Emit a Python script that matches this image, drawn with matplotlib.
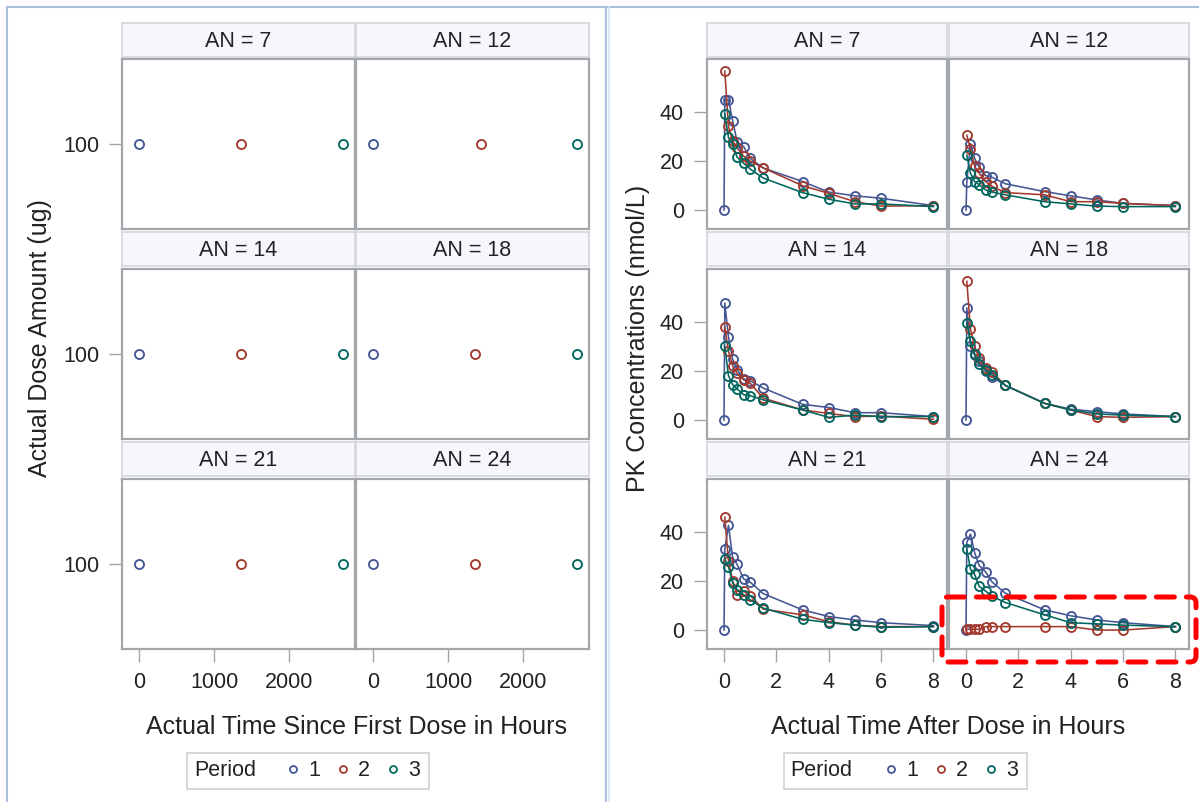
import matplotlib
matplotlib.use('Agg')
import matplotlib.pyplot as plt
from matplotlib.patches import Rectangle, FancyBboxPatch
from matplotlib.lines import Line2D
from matplotlib.transforms import IdentityTransform

plt.rcParams['font.family'] = ['Liberation Sans', 'DejaVu Sans']

# ---------------- data ----------------
subjects = [7, 12, 14, 18, 21, 24]
period_labels = ['1', '2', '3']
period_colors = ['#445694', '#A23A2E', '#01665E']

# Left graph: actual time since first dose (h) of each dosing, per subject
dose_time_p1 = [0, 0, 0, 0, 0, 0]
dose_time_p2 = [1360, 1440, 1350, 1360, 1360, 1360]
dose_time_p3 = [2720, 2710, 2720, 2710, 2720, 2710]
dose_amt_p1 = [100, 100, 100, 100, 100, 100]
dose_amt_p2 = [100, 100, 100, 100, 100, 100]
dose_amt_p3 = [100, 100, 100, 100, 100, 100]

# Right graph: actual time after dose (h)
pk_time_p1 = [0, 0.03, 0.17, 0.33, 0.5, 0.75, 1.0, 1.5, 3, 4, 5, 6, 8]
pk_time_p2 = [0.03, 0.17, 0.33, 0.5, 0.75, 1.0, 1.5, 3, 4, 5, 6, 8]
pk_time_p3 = [0.03, 0.17, 0.33, 0.5, 0.75, 1.0, 1.5, 3, 4, 5, 6, 8]

# PK concentrations (nmol/L) per subject
conc_p1 = {
    7:  [0, 44.8, 44.8, 36.3, 27.8, 25.8, 21.0, 17.1, 11.6, 7.3, 5.8, 4.8, 1.8],
    12: [0, 11.4, 27.0, 21.0, 17.5, 14.0, 13.3, 10.7, 7.5, 5.8, 4.1, 2.7, 1.8],
    14: [0, 47.5, 33.8, 24.7, 20.5, 16.7, 16.0, 13.0, 6.4, 5.1, 3.0, 3.0, 1.4],
    18: [0, 45.6, 30.0, 26.3, 24.0, 19.9, 17.5, 14.1, 6.8, 4.4, 3.4, 2.5, 1.4],
    21: [0, 32.9, 42.5, 29.5, 26.7, 20.8, 19.5, 14.8, 8.2, 5.5, 4.1, 3.0, 1.8],
    24: [0, 35.6, 39.0, 31.5, 26.3, 23.6, 19.5, 15.0, 8.2, 5.8, 4.1, 3.0, 1.4],
}
conc_p2 = {
    7:  [56.4, 34.0, 28.0, 25.3, 21.9, 19.9, 17.1, 9.9, 6.8, 3.4, 1.6, 1.8],
    12: [30.4, 25.0, 17.8, 15.0, 11.6, 9.6, 7.1, 6.2, 3.4, 3.4, 2.7, 1.8],
    14: [37.7, 28.0, 22.0, 19.0, 16.4, 15.0, 8.9, 4.1, 2.7, 1.4, 1.6, 0.3],
    18: [56.4, 37.0, 29.9, 25.3, 21.2, 19.5, 14.1, 6.8, 4.1, 1.4, 1.1, 1.4],
    21: [45.9, 28.0, 20.0, 14.4, 15.8, 14.0, 8.5, 6.2, 3.4, 2.0, 1.4, 1.4],
    24: [0.3, 0.3, 0.3, 0.3, 1.4, 1.4, 1.4, 1.4, 1.4, 0.0, 0.0, 1.4],
}
conc_p3 = {
    7:  [39.0, 29.5, 26.7, 21.5, 19.0, 16.7, 13.0, 7.1, 4.4, 2.5, 2.5, 1.4],
    12: [22.3, 15.0, 11.6, 10.3, 8.2, 7.3, 6.2, 3.4, 2.5, 1.6, 1.4, 1.4],
    14: [30.0, 18.0, 14.4, 12.7, 10.3, 9.9, 8.2, 4.1, 1.1, 2.0, 1.4, 1.4],
    18: [39.5, 32.0, 27.0, 22.6, 20.5, 18.5, 14.1, 6.8, 4.1, 2.5, 2.0, 1.4],
    21: [28.8, 25.8, 19.2, 16.4, 14.4, 12.3, 8.9, 4.4, 3.0, 2.0, 1.1, 1.4],
    24: [32.9, 24.7, 22.6, 17.8, 15.8, 13.7, 11.2, 6.2, 3.0, 2.5, 2.0, 1.4],
}

left_xticks = [0, 1000, 2000]
left_yticks = [100]
right_xticks = [0, 2, 4, 6, 8]
right_yticks = [0, 20, 40]

# ---------------- layout ----------------
W, H = 1199, 802
fig = plt.figure(figsize=(W / 100, H / 100), dpi=100)
fig.patch.set_facecolor('white')

TXT = '#222222'
FS = 15.5
LAB = 18

def add_ax(x0, y0, x1, y1):
    return fig.add_axes([x0 / W, 1 - y1 / H, (x1 - x0) / W, (y1 - y0) / H])

left_cols = [(122, 355), (356, 589)]
right_cols = [(707, 947), (949, 1189)]
rows = [(23, 57, 59, 229), (232, 266, 269, 439), (442, 476, 479, 649)]


def header(x0, x1, hy0, hy1, title):
    hax = add_ax(x0, hy0, x1, hy1)
    hax.set_facecolor('#f5f7fc')
    hax.set_xticks([])
    hax.set_yticks([])
    for sp in hax.spines.values():
        sp.set_color('#d4d6da')
        sp.set_linewidth(1.2)
    hax.text(0.5, 0.46, title, ha='center', va='center', fontsize=FS, color=TXT,
             transform=hax.transAxes)


def style_panel(ax, r, c):
    for sp in ax.spines.values():
        sp.set_color('#a3a7ab')
        sp.set_linewidth(1.6)
    ax.tick_params(axis='both', length=9.5, width=1.0, color='#a0a4a8',
                   labelsize=FS, labelcolor=TXT, pad=7)
    if c != 0:
        ax.tick_params(axis='y', left=False, labelleft=False)
    if r != 2:
        ax.tick_params(axis='x', bottom=False, labelbottom=False)


mk = dict(marker='o', mfc='none', ms=6.5, mew=1.35)

dose_times = [dose_time_p1, dose_time_p2, dose_time_p3]
dose_amts = [dose_amt_p1, dose_amt_p2, dose_amt_p3]
pk_times = [pk_time_p1, pk_time_p2, pk_time_p3]
concs = [conc_p1, conc_p2, conc_p3]

for i, s in enumerate(subjects):
    r, c = divmod(i, 2)
    hy0, hy1, py0, py1 = rows[r]

    # ---- left graph ----
    x0, x1 = left_cols[c]
    header(x0, x1, hy0, hy1, f'AN = {s}')
    ax = add_ax(x0, py0, x1, py1)
    for p in range(3):
        ax.plot([dose_times[p][i]], [dose_amts[p][i]], ls='none',
                mec=period_colors[p], **mk)
    ax.set_xlim(-230, 2875)
    ax.set_ylim(50, 150)
    ax.set_xticks(left_xticks)
    ax.set_yticks(left_yticks)
    style_panel(ax, r, c)

    # ---- right graph ----
    x0, x1 = right_cols[c]
    header(x0, x1, hy0, hy1, f'AN = {s}')
    ax = add_ax(x0, py0, x1, py1)
    for p in range(3):
        ax.plot(pk_times[p], concs[p][s], color=period_colors[p], lw=1.15,
                mec=period_colors[p], **mk)
    ax.set_xlim(-0.65, 8.52)
    ax.set_ylim(-7.7, 61.4)
    ax.set_xticks(right_xticks)
    ax.set_yticks(right_yticks)
    style_panel(ax, r, c)

# axis labels
fig.text(40 / W, 1 - 338 / H, 'Actual Dose Amount (ug)', rotation=90,
         ha='center', va='center', fontsize=LAB, color=TXT)
fig.text(638 / W, 1 - 338 / H, 'PK Concentrations (nmol/L)', rotation=90,
         ha='center', va='center', fontsize=LAB, color=TXT)
fig.text(356 / W, 1 - 727 / H, 'Actual Time Since First Dose in Hours',
         ha='center', va='center', fontsize=LAB, color=TXT)
fig.text(948 / W, 1 - 727 / H, 'Actual Time After Dose in Hours',
         ha='center', va='center', fontsize=LAB, color=TXT)

# legends
handles = [Line2D([], [], ls='none', marker='o', mfc='none', mec=col,
                  ms=5, mew=1.3) for col in period_colors]
for (bx0, bx1, tx, hx) in [(187, 429, 194, 286.5), (784, 1027, 790, 884.5)]:
    fig.patches.append(Rectangle((bx0 / W, 1 - 789 / H), (bx1 - bx0) / W,
                                 36 / H, transform=fig.transFigure,
                                 fill=False, ec='#cfd1d4', lw=1.2))
    fig.text(tx / W, 1 - 771 / H, 'Period', ha='left', va='center',
             fontsize=FS, color=TXT)
    fig.legend(handles, period_labels, loc='center left',
               bbox_to_anchor=(hx / W, 1 - 771 / H), ncol=3, frameon=False,
               fontsize=FS, handlelength=0.6, handletextpad=0.4,
               columnspacing=0.78, borderpad=0, borderaxespad=0,
               labelcolor=TXT)

# outer frames
bc = '#a9c0de'
fig.add_artist(Line2D([7 / W, 7 / W], [0, 1 - 7 / H], transform=fig.transFigure,
                      color=bc, lw=1.5))
fig.add_artist(Line2D([7 / W, 1], [1 - 7 / H, 1 - 7 / H], transform=fig.transFigure,
                      color=bc, lw=1.5))
fig.add_artist(Line2D([606 / W, 606 / W], [0, 1 - 7 / H], transform=fig.transFigure,
                      color=bc, lw=1.5))
fig.add_artist(Line2D([609 / W, 609 / W], [0, 1 - 7 / H], transform=fig.transFigure,
                      color='#d9e3f0', lw=1.2))

# red dashed highlight box
box = FancyBboxPatch((942, H - 662), 1196 - 942, 662 - 597,
                     boxstyle='round,pad=0,rounding_size=6',
                     transform=IdentityTransform(), fill=False,
                     ec='#ff0000', lw=3.6, ls=(0, (3.6, 2.4)))
box.set_capstyle('round')
fig.patches.append(box)

fig.savefig('out.png', dpi=100, facecolor='white')
